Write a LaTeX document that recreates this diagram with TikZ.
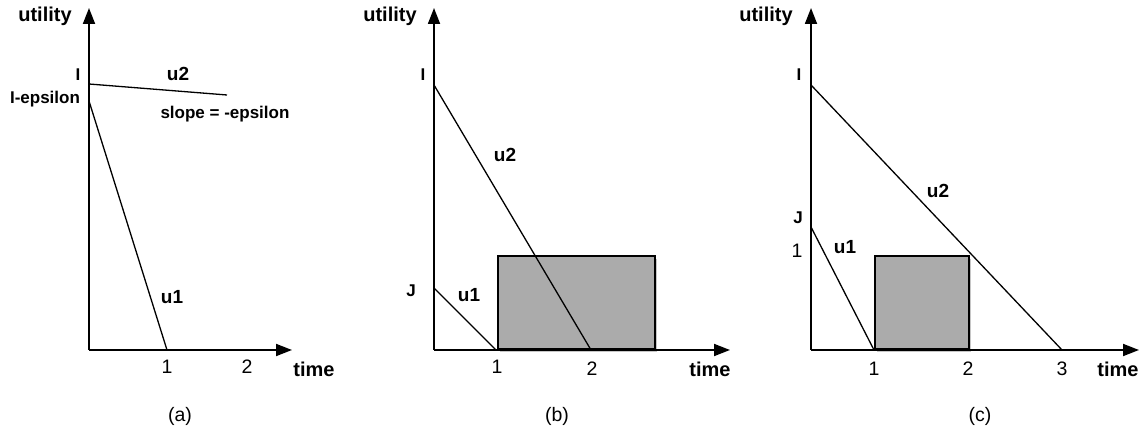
\documentclass[tikz,border=0pt]{standalone}
\usepackage{fontspec}
\setmainfont{Liberation Sans}
\usetikzlibrary{arrows.meta, shadows}
\tikzset{
  axisline/.style={-{Triangle[length=16pt, width=12pt]}, line width=1.8pt},
  curve/.style={line width=1.3pt},
  lbl/.style={font=\fontsize{17}{20}\selectfont\bfseries, inner sep=0pt},
  axlbl/.style={font=\fontsize{20}{22}\selectfont\bfseries, inner sep=0pt},
  ulbl/.style={font=\fontsize{19}{22}\selectfont\bfseries, inner sep=0pt},
  num/.style={font=\fontsize{19.5}{22}\selectfont, inner sep=0pt},
  jobbox/.style={draw=black, line width=1.6pt, fill=black!33,
    drop shadow={shadow xshift=2.5pt, shadow yshift=-2.5pt, opacity=0.45}},
}

\begin{document}
\begin{tikzpicture}[x=1pt, y=1pt]
\useasboundingbox (0,0) rectangle (1143,433);

% ---- (a) ----
\begin{scope}[xshift=89pt, yshift=83pt]
\coordinate (a0) at (0,0);
\coordinate (ay) at (0,342);
\coordinate (ax) at (203,0);
\coordinate (a2s) at (0,266);
\coordinate (a2e) at (138,255);
\coordinate (a1s) at (0,249);
\coordinate (a1e) at (78,0);
\draw[curve] (a2s) -- (a2e);
\draw[curve] (a1s) -- (a1e);
\draw[axisline] (a0) -- (ay);
\draw[axisline] (a0) -- (ax);
\node[axlbl] (autil) at (-44,334) {utility};
\node[axlbl] (atime) at (225,-19) {time};
\node[num] (at1) at (78,-17) {1};
\node[num] (at2) at (158,-17) {2};
\node[lbl] (aI) at (-11,275) {I};
\node[lbl] (aIe) at (-44,251) {I-epsilon};
\node[ulbl] (au2) at (89,276) {u2};
\node[lbl] (aslope) at (136,236) {slope = -epsilon};
\node[ulbl] (au1) at (83,53) {u1};
\node[num] (acap) at (91,-66) {(a)};
\end{scope}

% ---- (b) ----
\begin{scope}[xshift=434pt, yshift=83pt]
\coordinate (b0) at (0,0);
\coordinate (by) at (0,342);
\coordinate (bx) at (296,0);
\coordinate (b2s) at (0,265);
\coordinate (b2e) at (157,0);
\coordinate (b1s) at (0,62);
\coordinate (b1e) at (62,0);
\node[jobbox, minimum width=157pt, minimum height=93pt, anchor=south west]
  (bbox) at (63,0) {};
\draw[curve] (b2s) -- (b2e);
\draw[curve] (b1s) -- (b1e);
\draw[axisline] (b0) -- (by);
\draw[axisline] (b0) -- (bx);
\node[axlbl] (butil) at (-44,334) {utility};
\node[axlbl] (btime) at (276,-19) {time};
\node[num] (bt1) at (63,-17) {1};
\node[num] (bt2) at (158,-19) {2};
\node[lbl] (bI) at (-11,275) {I};
\node[lbl] (bJ) at (-23,59) {J};
\node[ulbl] (bu2) at (71,195) {u2};
\node[ulbl] (bu1) at (35,55) {u1};
\node[num] (bcap) at (123,-66) {(b)};
\end{scope}

% ---- (c) ----
\begin{scope}[xshift=811pt, yshift=83pt]
\coordinate (c0) at (0,0);
\coordinate (cy) at (0,342);
\coordinate (cx) at (328,0);
\coordinate (c2s) at (0,265);
\coordinate (c2e) at (251,0);
\coordinate (c1s) at (0,123);
\coordinate (c1e) at (63,0);
\node[jobbox, minimum width=94pt, minimum height=93pt, anchor=south west]
  (cbox) at (63,0) {};
\draw[curve] (c2s) -- (c2e);
\draw[curve] (c1s) -- (c1e);
\draw[axisline] (c0) -- (cy);
\draw[axisline] (c0) -- (cx);
\node[axlbl] (cutil) at (-45,334) {utility};
\node[axlbl] (ctime) at (307,-19) {time};
\node[num] (ct1) at (63,-19) {1};
\node[num] (ct2) at (157,-19) {2};
\node[num] (ct3) at (251,-19) {3};
\node[lbl] (cI) at (-12,275) {I};
\node[lbl] (cJ) at (-13,132) {J};
\node[num] (cy1) at (-14,99) {1};
\node[ulbl] (cu2) at (127,159) {u2};
\node[ulbl] (cu1) at (34,103) {u1};
\node[num] (ccap) at (169,-66) {(c)};
\end{scope}
\end{tikzpicture}
\end{document}
